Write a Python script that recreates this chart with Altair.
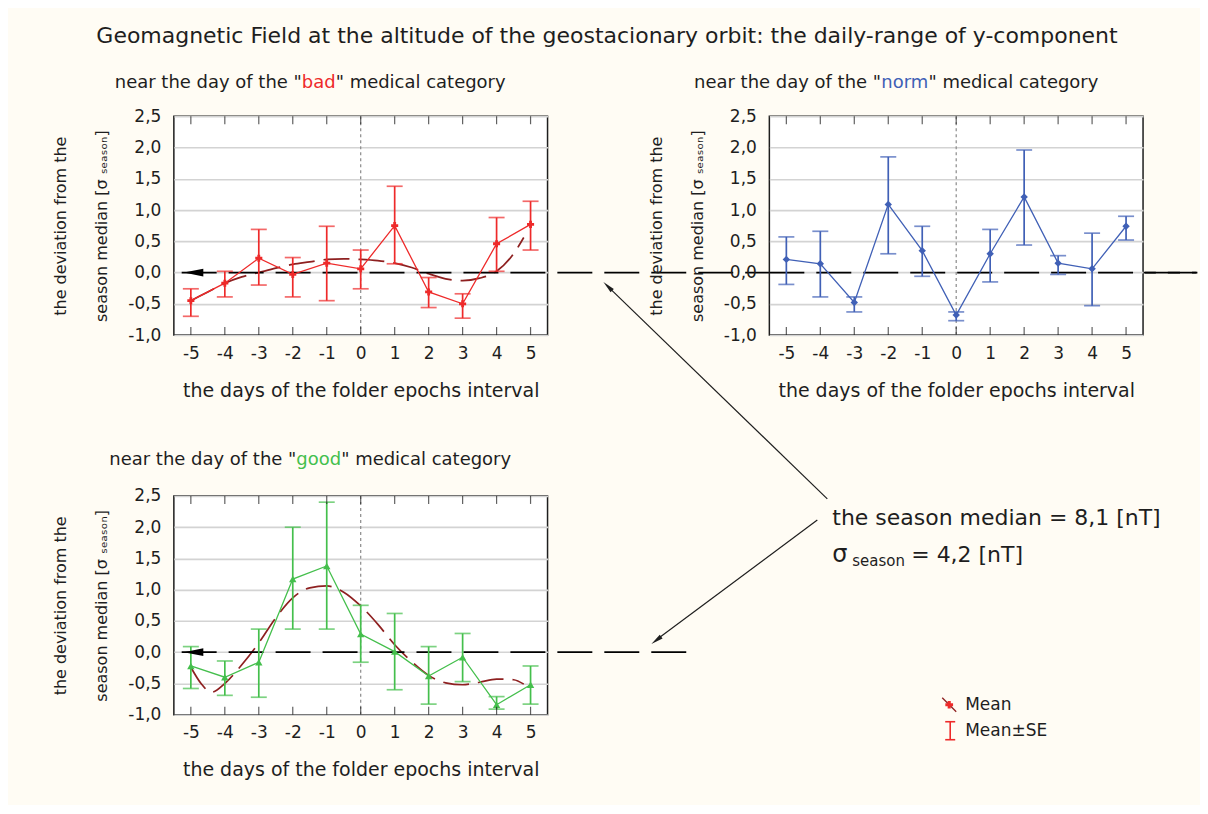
import altair as alt
import pandas as pd

# ---------------- data ----------------
days = [-5, -4, -3, -2, -1, 0, 1, 2, 3, 4, 5]

bad_mean = [-0.45, -0.17, 0.23, -0.03, 0.15, 0.06, 0.75, -0.31, -0.50, 0.46, 0.77]
bad_hi = [-0.26, 0.02, 0.69, 0.24, 0.74, 0.36, 1.38, -0.08, -0.34, 0.88, 1.14]
bad_lo = [-0.70, -0.39, -0.20, -0.39, -0.45, -0.26, 0.14, -0.56, -0.73, 0.02, 0.36]

norm_mean = [0.21, 0.14, -0.48, 1.09, 0.35, -0.68, 0.30, 1.21, 0.15, 0.06, 0.74]
norm_hi = [0.57, 0.66, -0.39, 1.85, 0.74, -0.63, 0.69, 1.96, 0.27, 0.63, 0.90]
norm_lo = [-0.19, -0.39, -0.63, 0.30, -0.06, -0.77, -0.15, 0.44, -0.03, -0.53, 0.52]

good_mean = [-0.22, -0.40, -0.16, 1.17, 1.38, 0.29, 0.01, -0.38, -0.08, -0.84, -0.52]
good_hi = [0.09, -0.14, 0.37, 2.00, 2.40, 0.75, 0.62, 0.09, 0.30, -0.71, -0.22]
good_lo = [-0.58, -0.69, -0.72, 0.37, 0.37, -0.16, -0.60, -0.83, -0.47, -0.91, -0.83]

bad_fit_x = [-5, -4.5, -4, -3.5, -3, -2.5, -2, -1.5, -1, -0.5, 0, 0.5, 1, 1.5, 2, 2.5, 3, 3.5, 4, 4.5, 4.8]
bad_fit_y = [-0.45, -0.31, -0.17, -0.07, 0.0, 0.07, 0.13, 0.17, 0.21, 0.22, 0.21, 0.19, 0.15, 0.08, -0.02,
             -0.10, -0.13, -0.09, 0.02, 0.30, 0.56]

good_fit_x = [-5, -4.7, -4.4, -4, -3.5, -3, -2.5, -2, -1.5, -1, -0.5, 0, 0.5, 1, 1.5, 2, 2.5, 3, 3.5, 4, 4.5, 4.8]
good_fit_y = [-0.24, -0.50, -0.64, -0.50, -0.20, 0.15, 0.55, 0.87, 1.03, 1.06, 0.96, 0.74, 0.45, 0.12, -0.15,
              -0.37, -0.49, -0.52, -0.48, -0.43, -0.44, -0.51]

y_ticks = [-1.0, -0.5, 0.0, 0.5, 1.0, 1.5, 2.0, 2.5]

main_title = "Geomagnetic Field at the altitude of the geostacionary orbit: the daily-range of y-component"
x_title = "the days of the folder epochs interval"
y_title = ["the deviation from the", "season median [σ ₛₑₐₛₒₙ]"]

# ---------------- style ----------------
FONT = "DejaVu Sans"
INK = "#1e1e1e"
RED = "#ee2a2a"
BLUE = "#4060b6"
GREEN = "#44bf4c"
DARKRED = "#8e2020"
W, H = 374, 219
LEFT_HEAD = "M -1 0 L 1 -0.4 L 1 0.4 Z"
UP_HEAD = "M 0 -1 L 0.38 1 L -0.38 1 Z"

XS = alt.Scale(domain=[-5.5, 5.5], nice=False, zero=False)
YS = alt.Scale(domain=[-1.0, 2.5], nice=False, zero=False)

x_axis = alt.Axis(values=days, labelExpr="'' + datum.value", title=x_title, grid=False, ticks=False,
                  domain=False, labelPadding=10, titlePadding=20, labelOverlap=False,
                  labelFontSize=17, titleFontSize=19)
y_axis = alt.Axis(values=y_ticks,
                  labelExpr="replace(replace(format(datum.value, '.1f'), '.', ','), '\u2212', '-')",
                  title=y_title, grid=True, gridColor="#d3d3d3", gridWidth=1.6, ticks=False,
                  domain=False, labelPadding=13, titlePadding=18, labelOverlap=False,
                  labelFontSize=17, titleFontSize=16, titleLineHeight=41)


def X(field=None, datum=None):
    if datum is not None:
        return alt.X(datum=datum, type="quantitative", scale=XS, axis=x_axis)
    return alt.X(field, type="quantitative", scale=XS, axis=x_axis)


def Y(field=None, datum=None):
    if datum is not None:
        return alt.Y(datum=datum, type="quantitative", scale=YS, axis=y_axis)
    return alt.Y(field, type="quantitative", scale=YS, axis=y_axis)


dummy = pd.DataFrame({"k": [0]})


def txt(s, x, y, size, color=INK, align="left", baseline="alphabetic"):
    return alt.Chart(dummy).mark_text(text=s, fontSize=size, color=color, align=align,
                                      baseline=baseline, font=FONT).encode(
        x=alt.value(x), y=alt.value(y))


def subtitle(word, color, cx, y, w):
    return [
        txt('near the day of the "', cx - w / 2, y, 18, align="right"),
        txt(word, cx, y, 18, color=color, align="center"),
        txt('" medical category', cx + w / 2, y, 18, align="left"),
    ]


def panel(mean, hi, lo, color, shape, msize, zero_from, zero_to, fit_x=None, fit_y=None,
          arrow=True, extra=None):
    df = pd.DataFrame({"day": days, "mean": mean, "hi": hi, "lo": lo})
    base = alt.Chart(df)
    layers = []
    # frame layer carrying the axes (invisible points)
    layers.append(base.mark_point(opacity=0).encode(x=X("day"), y=Y("mean")))
    # vertical dotted line at day 0
    layers.append(alt.Chart(dummy).mark_rule(color="#8a8a8a", strokeDash=[3, 3], strokeWidth=1.2)
                  .encode(x=X(datum=0)))
    if fit_x is not None:
        fdf = pd.DataFrame({"x": fit_x, "y": fit_y})
        layers.append(alt.Chart(fdf).mark_line(color=DARKRED, strokeWidth=1.7, strokeDash=[26, 9],
                                               interpolate="monotone").encode(x=X("x"), y=Y("y")))
    # zero dashed line
    layers.append(alt.Chart(dummy).mark_rule(color="black", strokeWidth=1.8, strokeDash=[35, 12],
                                             clip=False).encode(
        x=X(datum=zero_from), x2=alt.X2(datum=zero_to), y=Y(datum=0)))
    # error bars
    layers.append(base.mark_rule(color=color, strokeWidth=1.7).encode(x=X("day"), y=Y("lo"), y2="hi:Q"))
    for f in ["hi", "lo"]:
        layers.append(base.mark_tick(color=color, orient="horizontal", size=16, thickness=1.7).encode(
            x=X("day"), y=Y(f)))
    # mean line + markers
    layers.append(base.mark_line(color=color, strokeWidth=1.3).encode(x=X("day"), y=Y("mean")))
    layers.append(base.mark_point(shape=shape, filled=True, size=msize, color=color, opacity=1).encode(
        x=X("day"), y=Y("mean")))
    if arrow:
        layers.append(alt.Chart(dummy).mark_point(shape=LEFT_HEAD, filled=True, size=380,
                                                  color="black", opacity=1).encode(
            x=X(datum=-4.92), y=Y(datum=0)))
    # inner ticks on top and bottom frame
    tdf = pd.DataFrame({"day": days})
    for yv, off in [(-1.0, -4), (2.5, 4)]:
        layers.append(alt.Chart(tdf).mark_tick(color=INK, orient="vertical", size=8, thickness=1.2,
                                               yOffset=off).encode(x=X("day"), y=Y(datum=yv)))
    if extra:
        layers.extend(extra)
    return alt.layer(*layers).properties(width=W, height=H)


# ---------------- panels ----------------
bad_extra = [txt(main_title, 433.5, -73, 22, align="center")] + subtitle("bad", RED, 145, -28.3, 33.9)
bad = panel(bad_mean, bad_hi, bad_lo, RED, "cross", 50, -5.27, 24.6, bad_fit_x, bad_fit_y,
            arrow=True, extra=bad_extra)

norm_extra = subtitle("norm", BLUE, 135.5, -28.3, 47.4)
norm = panel(norm_mean, norm_hi, norm_lo, BLUE, "diamond", 55, -5.5, 7.1, arrow=False, extra=norm_extra)

# annotations placed relative to the good panel
good_extra = subtitle("good", GREEN, 145, -31, 44.9) + [
    alt.Chart(dummy).mark_rule(color=INK, strokeWidth=1.2).encode(
        x=alt.value(654), x2=alt.value(434), y=alt.value(3), y2=alt.value(-210)),
    alt.Chart(dummy).mark_rule(color=INK, strokeWidth=1.2).encode(
        x=alt.value(644), x2=alt.value(483), y=alt.value(24), y2=alt.value(144)),
    alt.Chart(dummy).mark_point(shape=UP_HEAD, angle=314, filled=True, size=150, color=INK, opacity=1)
        .encode(x=alt.value(434.3), y=alt.value(-209.8)),
    alt.Chart(dummy).mark_point(shape=UP_HEAD, angle=233, filled=True, size=150, color=INK, opacity=1)
        .encode(x=alt.value(482.8), y=alt.value(144.4)),
    txt("the season median = 8,1 [nT]", 659, 29, 22),
    txt("σ", 659, 66, 24),
    txt("season", 679, 70, 15),
    txt("= 4,2 [nT]", 738, 66, 22),
    # legend
    alt.Chart(dummy).mark_rule(color=DARKRED, strokeWidth=1.3).encode(
        x=alt.value(769), x2=alt.value(783), y=alt.value(202), y2=alt.value(216)),
    alt.Chart(dummy).mark_point(shape="cross", filled=True, size=60, color=RED, opacity=1)
        .encode(x=alt.value(776), y=alt.value(209)),
    alt.Chart(dummy).mark_rule(color=RED, strokeWidth=1.6).encode(
        x=alt.value(777), y=alt.value(226), y2=alt.value(244)),
    alt.Chart(dummy).mark_rule(color=RED, strokeWidth=1.6).encode(
        x=alt.value(772), x2=alt.value(782), y=alt.value(226)),
    alt.Chart(dummy).mark_rule(color=RED, strokeWidth=1.6).encode(
        x=alt.value(772), x2=alt.value(782), y=alt.value(244)),
    txt("Mean", 792, 209, 17, baseline="middle"),
    txt("Mean±SE", 792, 235, 17, baseline="middle"),
]
good = panel(good_mean, good_hi, good_lo, GREEN, "triangle-up", 55, -5.27, 9.8, good_fit_x, good_fit_y,
             arrow=True, extra=good_extra)

chart = alt.concat(bad, norm, good, columns=2, spacing={"row": 161, "column": 222}, bounds="flush") \
    .configure(background="#fffcf4", font=FONT,
               padding={"left": 44, "top": 16, "right": 0, "bottom": 24}) \
    .configure_view(fill="white", stroke=INK, strokeWidth=1.5) \
    .configure_axis(labelFont=FONT, titleFont=FONT, labelColor=INK, titleColor=INK,
                    titleFontWeight="normal")

chart.save("out.html", embed_options={"renderer": "svg", "actions": False})
